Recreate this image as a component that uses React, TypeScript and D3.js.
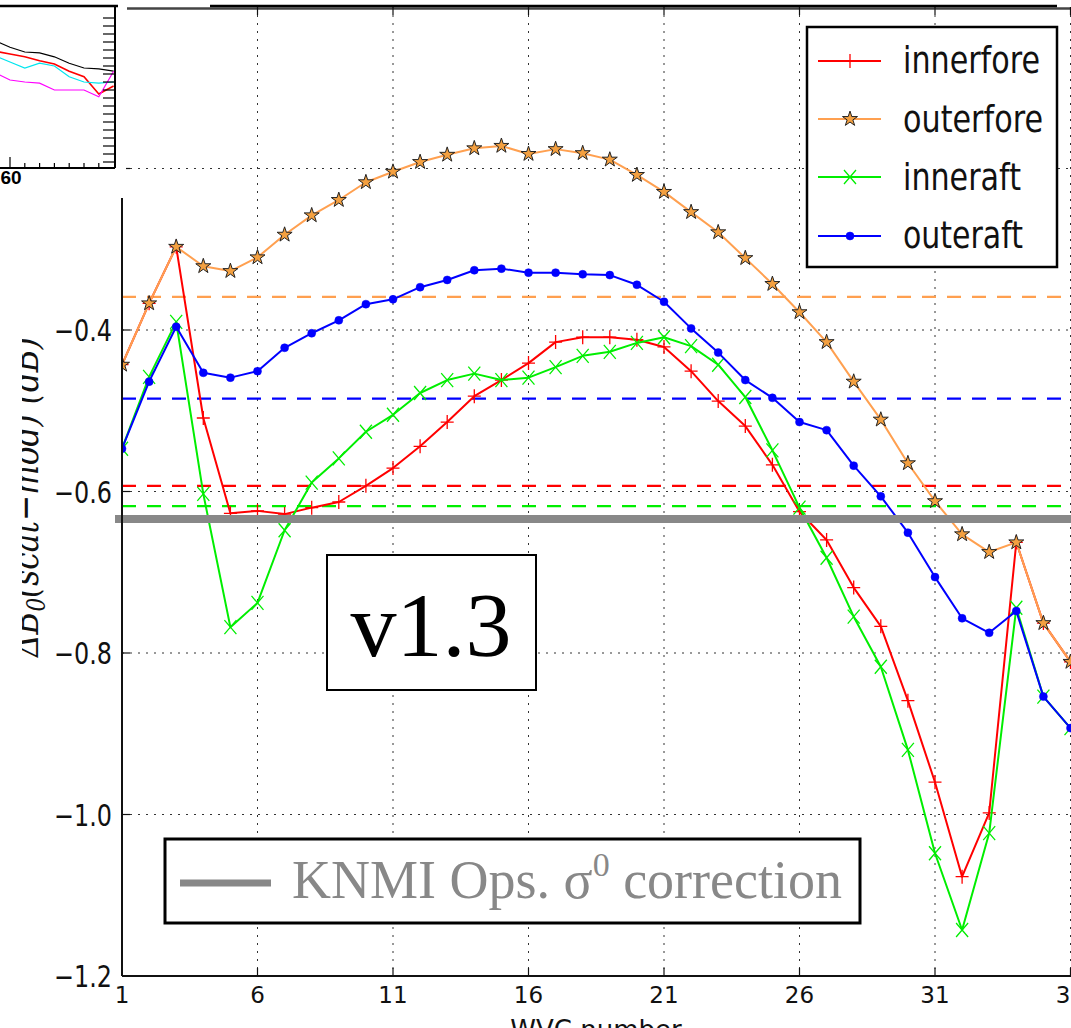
import React from "react";
import * as d3 from "d3";

// ---------- data ----------
const wvc = [1, 2, 3, 4, 5, 6, 7, 8, 9, 10, 11, 12, 13, 14, 15, 16, 17, 18, 19, 20, 21, 22, 23, 24, 25, 26, 27, 28, 29, 30, 31, 32, 33, 34, 35, 36];

const innerfore = [-0.443, -0.367, -0.297, -0.509, -0.627, -0.624, -0.628, -0.62, -0.613, -0.593, -0.571, -0.544, -0.514, -0.482, -0.462, -0.441, -0.415, -0.409, -0.409, -0.412, -0.421, -0.451, -0.488, -0.519, -0.567, -0.625, -0.66, -0.719, -0.767, -0.859, -0.96, -1.077, -0.998, -0.663, -0.763, -0.811];
const outerfore = [-0.443, -0.367, -0.297, -0.321, -0.327, -0.31, -0.282, -0.258, -0.239, -0.217, -0.204, -0.192, -0.183, -0.175, -0.172, -0.182, -0.176, -0.181, -0.189, -0.208, -0.229, -0.254, -0.279, -0.311, -0.343, -0.378, -0.415, -0.464, -0.511, -0.565, -0.612, -0.653, -0.675, -0.663, -0.763, -0.811];
const inneraft = [-0.547, -0.458, -0.39, -0.603, -0.768, -0.738, -0.648, -0.589, -0.559, -0.526, -0.505, -0.478, -0.462, -0.454, -0.462, -0.459, -0.446, -0.432, -0.427, -0.416, -0.409, -0.42, -0.443, -0.483, -0.549, -0.62, -0.682, -0.755, -0.817, -0.92, -1.048, -1.143, -1.023, -0.744, -0.854, -0.893];
const outeraft = [-0.547, -0.464, -0.396, -0.453, -0.459, -0.451, -0.422, -0.404, -0.388, -0.368, -0.362, -0.347, -0.338, -0.326, -0.324, -0.329, -0.329, -0.331, -0.332, -0.344, -0.365, -0.398, -0.428, -0.462, -0.484, -0.514, -0.524, -0.568, -0.606, -0.651, -0.706, -0.757, -0.775, -0.748, -0.854, -0.893];

const seriesNames = ["innerfore", "outerfore", "inneraft", "outeraft"];
const seriesMeans = [-0.593, -0.359, -0.618, -0.485];
const knmiCorrection = -0.634;

const xTicks = [1, 6, 11, 16, 21, 26, 31, 36];
const yTicks = [-1.2, -1.0, -0.8, -0.6, -0.4, -0.2];

// small inset (cropped neighbouring panel)
const insetX = [59, 60, 61, 62, 63, 64, 65, 66, 67];
const insetBlack = [15.9, 15.1, 14.5, 14.4, 13.9, 13.1, 12.5, 12.4, 12.1];
const insetRed = [14.6, 14.25, 13.9, 13.4, 13.0, 12.1, 11.4, 9.25, 10.25];
const insetCyan = [14.0, 13.25, 12.5, 13.1, 12.75, 11.4, 10.75, 10.6, 10.75];
const insetMagenta = [11.9, 11.0, 10.75, 10.6, 9.75, 9.75, 9.75, 8.9, 12.1];
const insetXTicks = [60, 61, 62, 63, 64, 65, 66];
const insetYTicks = [0.75, 1.75, 2.75, 3.75, 4.75, 5.75, 6.75, 7.75, 8.75, 9.75, 10.75, 11.75, 12.75, 13.75, 14.75, 15.75, 16.75, 17.75, 18.75];

// ---------- styles ----------
const colors = ["#ff0000", "#ffa050", "#00ee00", "#0000ff"];

const W = 1071;
const H = 1028;

const x = d3.scaleLinear().domain([1, 36]).range([122, 1070.5]);
const y = d3.scaleLinear().domain([-1.2, -0.4]).range([976, 330]);

const ix = d3.scaleLinear().domain([60, 61]).range([10, 24.8]);
const iy = d3.scaleLinear().domain([0, 20]).range([168, 8]);

function Marker({ kind, cx, cy, color }: { kind: number; cx: number; cy: number; color: string }) {
  if (kind === 0) {
    return (
      <path d={`M${cx - 6.5},${cy}H${cx + 6.5}M${cx},${cy - 7}V${cy + 7}`} stroke={color} strokeWidth={1.3} fill="none" />
    );
  }
  if (kind === 1) {
    const star = d3.symbol().type(d3.symbolStar).size(70)();
    return <path d={star || ""} transform={`translate(${cx},${cy})`} fill="#f4a040" stroke="#222" strokeWidth={1} />;
  }
  if (kind === 2) {
    return (
      <path
        d={`M${cx - 6},${cy - 7}L${cx + 6},${cy + 7}M${cx - 6},${cy + 7}L${cx + 6},${cy - 7}`}
        stroke={color}
        strokeWidth={1.3}
        fill="none"
      />
    );
  }
  return <circle cx={cx} cy={cy} r={4} fill={color} stroke={color} strokeWidth={0.5} />;
}

export default function App() {
  const allSeries = [innerfore, outerfore, inneraft, outeraft];
  const line = d3
    .line<number>()
    .x((_, i) => x(wvc[i]))
    .y((d) => y(d));

  const insetLine = d3
    .line<number>()
    .x((_, i) => ix(insetX[i]))
    .y((d) => iy(d));

  const top = y(0);
  const bottom = y(-1.2);
  const left = x(1);

  const legendY = [61, 119, 177, 236];
  const legendBaseline = [73, 132, 190, 248];
  const legendLen = [137, 140, 118, 120];

  return (
    <svg
      width={W}
      height={H}
      style={{ position: "absolute", left: 0, top: 0, background: "#fff" }}
      fontFamily="DejaVu Sans"
    >
      <defs>
        <clipPath id="plotClip">
          <rect x={left} y={top} width={W - left} height={bottom - top} />
        </clipPath>
        <clipPath id="ylabClip">
          <rect x={22} y={0} width={100} height={H} />
        </clipPath>
        <clipPath id="insetClip">
          <rect x={0} y={6} width={115} height={162} />
        </clipPath>
      </defs>
      <rect x={0} y={0} width={W} height={H} fill="#fff" />

      {/* grid */}
      {xTicks.slice(1).map((t) => (
        <line key={"gx" + t} x1={x(t)} x2={x(t)} y1={top} y2={bottom} stroke="#333" strokeWidth={1} strokeDasharray="2,6" />
      ))}
      {yTicks.slice(1).map((t) => (
        <line key={"gy" + t} x1={left} x2={W} y1={y(t)} y2={y(t)} stroke="#333" strokeWidth={1} strokeDasharray="2,6" />
      ))}

      {/* mean dashed lines */}
      {seriesMeans.map((m, i) => (
        <line
          key={"m" + i}
          x1={left}
          x2={W}
          y1={y(m)}
          y2={y(m)}
          stroke={colors[i]}
          strokeWidth={2.2}
          strokeDasharray="14,11"
        />
      ))}

      {/* series */}
      <g clipPath="url(#plotClip)">
        {allSeries.map((s, si) => (
          <g key={"s" + si}>
            <path d={line(s) || ""} fill="none" stroke={colors[si]} strokeWidth={2} strokeLinejoin="round" />
            {s.map((v, i) => (
              <Marker key={i} kind={si} cx={x(wvc[i])} cy={y(v)} color={colors[si]} />
            ))}
          </g>
        ))}
      </g>

      {/* KNMI operational correction */}
      <line x1={115} x2={W} y1={y(knmiCorrection)} y2={y(knmiCorrection)} stroke="#888" strokeWidth={8} />

      {/* spines & ticks */}
      <line x1={left} x2={W} y1={bottom} y2={bottom} stroke="#111" strokeWidth={2} />
      <line x1={left} x2={left} y1={top} y2={bottom} stroke="#111" strokeWidth={2} />
      <line x1={127} x2={W} y1={top + 1.5} y2={top + 1.5} stroke="#444" strokeWidth={2.5} />
      <line x1={210} x2={1057} y1={top - 1} y2={top - 1} stroke="#000" strokeWidth={2.5} />
      {xTicks.slice(1).map((t) => (
        <g key={"tx" + t}>
          <line x1={x(t)} x2={x(t)} y1={bottom} y2={bottom - 8} stroke="#111" strokeWidth={1.2} />
          <line x1={x(t)} x2={x(t)} y1={top} y2={top + 8} stroke="#111" strokeWidth={1.2} />
        </g>
      ))}
      {yTicks.map((t) => (
        <line key={"ty" + t} x1={left} x2={left + 8} y1={y(t)} y2={y(t)} stroke="#111" strokeWidth={1.2} />
      ))}

      {/* tick labels */}
      {xTicks.map((t) => (
        <text key={"lx" + t} x={x(t)} y={1003} fontSize={23} textAnchor="middle" fill="#111">
          {t}
        </text>
      ))}
      {yTicks.map((t) => (
        <text
          key={"ly" + t}
          x={112}
          y={y(t) + 11}
          fontSize={30}
          textAnchor="end"
          fill="#111"
          textLength={58}
          lengthAdjust="spacingAndGlyphs"
        >
          {"\u2212" + Math.abs(t).toFixed(1)}
        </text>
      ))}

      {/* axis labels */}
      <text x={596} y={1039} fontSize={26} textAnchor="middle" fill="#111">
        WVC number
      </text>
      <g clipPath="url(#ylabClip)">
        <text
          transform="translate(38,497) rotate(-90)"
          fontFamily="DejaVu Serif"
          fontStyle="italic"
          fontSize={38}
          textAnchor="middle"
          fill="#111"
          textLength={320}
          lengthAdjust="spacingAndGlyphs"
        >
          ΔB<tspan fontSize={26} dy={7}>0</tspan>
          <tspan dy={-7}>(scat−mod) (dB)</tspan>
        </text>
      </g>

      {/* white cover of upper-left corner */}
      <rect x={0} y={0} width={126} height={198} fill="#fff" />

      {/* inset panel */}
      <g clipPath="url(#insetClip)">
        <path d={insetLine(insetBlack) || ""} fill="none" stroke="#000" strokeWidth={1.2} />
        <path d={insetLine(insetRed) || ""} fill="none" stroke="#ff0000" strokeWidth={1.6} />
        <path d={insetLine(insetCyan) || ""} fill="none" stroke="#00e5ee" strokeWidth={1.2} />
        <path d={insetLine(insetMagenta) || ""} fill="none" stroke="#ff00ff" strokeWidth={1.2} />
      </g>
      <line x1={0} x2={118} y1={6} y2={6} stroke="#000" strokeWidth={2.5} />
      <line x1={115} x2={115} y1={6} y2={168} stroke="#000" strokeWidth={2} />
      <line x1={0} x2={115} y1={168} y2={168} stroke="#000" strokeWidth={2} />
      {insetYTicks.map((t) => (
        <line key={"iy" + t} x1={103} x2={115} y1={iy(t)} y2={iy(t)} stroke="#000" strokeWidth={1.2} />
      ))}
      {insetXTicks.map((t, i) => (
        <line key={"ix" + t} x1={ix(t)} x2={ix(t)} y1={168} y2={i === 0 ? 157 : 163} stroke="#000" strokeWidth={1.2} />
      ))}
      <text x={ix(60) + 1} y={184} fontSize={19} fontFamily="Liberation Sans" fontWeight="bold" textAnchor="middle" fill="#000">
        60
      </text>

      {/* legend */}
      <rect x={807} y={27} width={250} height={240} fill="#fff" stroke="#000" strokeWidth={2.5} />
      {seriesNames.map((n, i) => (
        <g key={"lg" + n}>
          <line x1={818} x2={881} y1={legendY[i]} y2={legendY[i]} stroke={colors[i]} strokeWidth={2} />
          <Marker kind={i} cx={850} cy={legendY[i]} color={colors[i]} />
          <text
            x={903}
            y={legendBaseline[i]}
            fontSize={38}
            fill="#111"
            textLength={legendLen[i]}
            lengthAdjust="spacingAndGlyphs"
          >
            {n}
          </text>
        </g>
      ))}

      {/* version box */}
      <rect x={327} y={555} width={209} height={135} fill="#fff" stroke="#000" strokeWidth={2} />
      <text x={431} y={656} fontFamily="Liberation Serif" fontSize={92} textAnchor="middle" fill="#000">
        v1.3
      </text>

      {/* KNMI correction key */}
      <rect x={165} y={839} width={695} height={84} fill="#fff" stroke="#000" strokeWidth={3} />
      <line x1={180} x2={271} y1={883} y2={883} stroke="#888" strokeWidth={7} />
      <text x={292} y={898} fontFamily="Liberation Serif" fontSize={54} fill="#888">
        KNMI Ops. σ<tspan fontSize={34} dy={-22}>0</tspan>
        <tspan dy={22}> correction</tspan>
      </text>
    </svg>
  );
}
